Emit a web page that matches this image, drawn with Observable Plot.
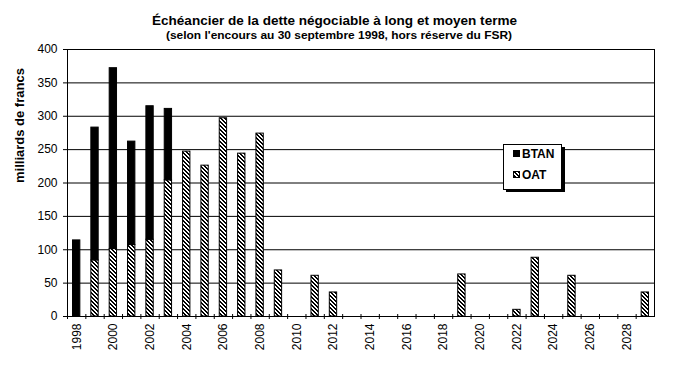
<!DOCTYPE html>
<html>
<head>
<meta charset="utf-8">
<script src="https://cdn.jsdelivr.net/npm/d3@7"></script>
<script src="https://cdn.jsdelivr.net/npm/@observablehq/plot@0.6"></script>
<style>
  body { margin: 0; background: #fff; }
  #wrap { width: 675px; height: 367px; font-family: "Liberation Sans", Arial, sans-serif; }
  svg { display: block; }
</style>
</head>
<body>
<div id="wrap">
  <svg id="header" width="675" height="42">
    <text x="152" y="25" font-family="Liberation Sans, Arial, sans-serif" font-weight="bold" font-size="13" textLength="365" lengthAdjust="spacingAndGlyphs">Échéancier de la dette négociable à long et moyen terme</text>
    <text x="166" y="39" font-family="Liberation Sans, Arial, sans-serif" font-weight="bold" font-size="10" textLength="346" lengthAdjust="spacingAndGlyphs">(selon l'encours au 30 septembre 1998, hors réserve du FSR)</text>
  </svg>
  <div id="chart"></div>
</div>
<script>
const years = [1998, 1999, 2000, 2001, 2002, 2003, 2004, 2005, 2006, 2007, 2008, 2009, 2010, 2011, 2012, 2013,
               2014, 2015, 2016, 2017, 2018, 2019, 2020, 2021, 2022, 2023, 2024, 2025, 2026, 2027, 2028, 2029];
const oat  = [0, 84, 101, 107, 115, 204, 247, 226, 297, 244, 274, 69, 0, 61, 36, 0,
              0, 0, 0, 0, 0, 63, 0, 0, 10, 88, 0, 61, 0, 0, 0, 36];
const btan = [114, 199, 271, 155, 200, 107, 0, 0, 0, 0, 0, 0, 0, 0, 0, 0,
              0, 0, 0, 0, 0, 0, 0, 0, 0, 0, 0, 0, 0, 0, 0, 0];
const seriesNames = ["OAT", "BTAN"];
const yTicks = [0, 50, 100, 150, 200, 250, 300, 350, 400];
const xLabelYears = [1998, 2000, 2002, 2004, 2006, 2008, 2010, 2012, 2014, 2016, 2018, 2020, 2022, 2024, 2026, 2028];
const yTitle = "milliards de francs";

const rows = [];
years.forEach((yr, i) => {
  rows.push({year: yr, series: "OAT", value: oat[i]});
  rows.push({year: yr, series: "BTAN", value: btan[i]});
});
const barRows = rows.filter(d => d.value > 0);

const W = 675, H = 325, mL = 67, mR = 21, mT = 7, mB = 51;
const step = (W - mL - mR) / years.length;
const fillOf = s => s === "BTAN" ? "black" : "url(#hatch)";
const font = '"Liberation Sans", Arial, sans-serif';

const chart = Plot.plot({
  width: W, height: H,
  marginTop: mT, marginBottom: mB, marginLeft: mL, marginRight: mR,
  style: {fontFamily: font, fontSize: "12px", color: "black", background: "white", overflow: "visible"},
  x: {type: "band", domain: years, paddingInner: 0.6, paddingOuter: 0.3, align: 0.5, round: false},
  y: {domain: [0, 400]},
  color: {type: "identity"},
  marks: [
    Plot.ruleY(yTicks, {stroke: "black", strokeWidth: 1}),
    Plot.frame({stroke: "black"}),
    Plot.barY(barRows, {x: "year", y: "value", fill: d => fillOf(d.series), stroke: "black", strokeWidth: 1, order: seriesNames}),
    Plot.axisY({ticks: yTicks, tickSize: 4, tickPadding: 6, label: null, fontSize: 12}),
    Plot.axisX({ticks: xLabelYears, tickFormat: d => String(d), tickSize: 0, tickRotate: -90, tickPadding: 7, label: null, fontSize: 12}),
    Plot.ruleX(years, {x: d => d, dx: -step / 2, y1: 0, y2: 0, insetTop: 3, insetBottom: 2, stroke: "black"}),
    Plot.text([yTitle], {frameAnchor: "left", dx: -48, rotate: -90, text: d => d, fontWeight: "bold", fontSize: 13})
  ]
});

// hatch pattern definition
const svg = d3.select(chart);
const defs = svg.insert("defs", ":first-child");
const pat = defs.append("pattern").attr("id", "hatch").attr("patternUnits", "userSpaceOnUse")
  .attr("width", 4).attr("height", 4);
pat.append("rect").attr("width", 4).attr("height", 4).attr("fill", "white");
for (let r = 0; r < 4; r++) {
  pat.append("rect").attr("x", r).attr("y", r).attr("width", 1).attr("height", 1).attr("fill", "black");
  pat.append("rect").attr("x", (r + 1) % 4).attr("y", r).attr("width", 1).attr("height", 1).attr("fill", "black");
}

// legend
const lg = svg.append("g").attr("font-family", font).attr("font-weight", "bold").attr("font-size", 12)
  .attr("text-anchor", "start");
lg.append("rect").attr("x", 506).attr("y", 105).attr("width", 59).attr("height", 45).attr("fill", "black");
lg.append("rect").attr("x", 503.5).attr("y", 102.5).attr("width", 58).attr("height", 45).attr("fill", "white").attr("stroke", "black");
const legendItems = ["BTAN", "OAT"];
legendItems.forEach((name, i) => {
  const y0 = 108.5 + i * 21;
  lg.append("rect").attr("x", 513.5).attr("y", y0).attr("width", 6).attr("height", 6)
    .attr("fill", fillOf(name)).attr("stroke", "black");
  lg.append("text").attr("x", 522).attr("y", y0 + 7.5).text(name);
});

document.getElementById("chart").appendChild(chart);
</script>
</body>
</html>
